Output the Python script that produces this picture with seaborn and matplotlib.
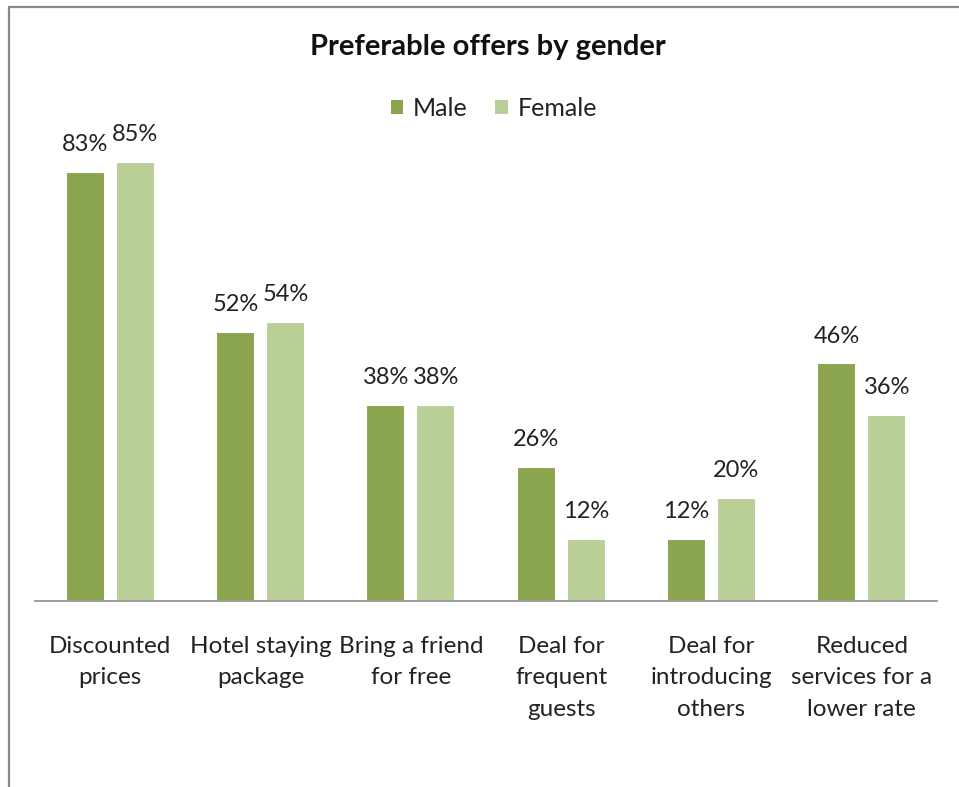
import matplotlib
matplotlib.use("Agg")
import matplotlib.pyplot as plt
import matplotlib.patheffects as pe
from matplotlib.lines import Line2D
from matplotlib.patches import Patch
import seaborn as sns
import pandas as pd

# Survey results: share of respondents preferring each offer, by gender
categories = [
    "Discounted\nprices",
    "Hotel staying\npackage",
    "Bring a friend\nfor free",
    "Deal for\nfrequent\nguests",
    "Deal for\nintroducing\nothers",
    "Reduced\nservices for a\nlower rate",
]
male = [83, 52, 38, 26, 12, 46]
female = [85, 54, 38, 12, 20, 36]
genders = ["Male", "Female"]
colors = {"Male": "#8AA54E", "Female": "#B9CF97"}

df = pd.DataFrame({
    "offer": categories * 2,
    "gender": ["Male"] * len(categories) + ["Female"] * len(categories),
    "share": male + female,
})

sns.set_theme(style="white")
plt.rcParams["font.family"] = ["Lato", "DejaVu Sans"]
text_color = "#222222"

W, H = 959, 787
fig = plt.figure(figsize=(W / 100, H / 100), dpi=100)
fig.patch.set_facecolor("white")

# plot area: baseline at y=601 px, 5.17 px per percentage point
left, right, base = 35, 937, 601
top = base - 5.17 * 90
ax = fig.add_axes([left / W, (H - base) / H, (right - left) / W, (base - top) / H])

sns.barplot(data=df, x="offer", y="share", hue="gender", hue_order=genders,
            palette=colors, saturation=1, width=0.665, gap=0.22,
            edgecolor="white", linewidth=1.5, legend=False, ax=ax)

for patch in ax.patches:
    patch.set_path_effects([
        pe.SimplePatchShadow(offset=(0.8, -0.8), shadow_rgbFace="#000000", alpha=0.10),
        pe.Normal(),
    ])

for cont in ax.containers:
    ax.bar_label(cont, labels=[f"{int(v)}%" for v in cont.datavalues],
                 padding=12, fontsize=17, color=text_color)

ax.set_ylim(0, 90)
ax.set_xlim(-0.5, len(categories) - 0.5)
ax.set_xlabel("")
ax.set_ylabel("")
ax.set_yticks([])
ax.tick_params(axis="x", length=0, pad=25, labelsize=17.5, colors=text_color)
for lbl in ax.get_xticklabels():
    lbl.set_linespacing(1.62)
    lbl.set_verticalalignment("top")
for side in ["left", "right", "top"]:
    ax.spines[side].set_visible(False)
ax.spines["bottom"].set_color("#8C8C8C")
ax.spines["bottom"].set_linewidth(1.2)
ax.set_facecolor("none")

fig.text(488 / W, 1 - 47 / H, "Preferable offers by gender", ha="center",
         va="center", fontsize=21, fontweight="bold", color="#111111")

handles = [Patch(facecolor=colors[g], edgecolor="none", label=g) for g in genders]
fig.legend(handles=handles, loc="center", bbox_to_anchor=(494 / W, 1 - 108 / H),
           ncol=2, frameon=False, fontsize=18, handlelength=0.5,
           handleheight=0.5, handletextpad=0.4, columnspacing=1.1,
           labelcolor=text_color)

# chart frame lines
fig.add_artist(Line2D([8.5 / W, 8.5 / W], [0, 1 - 6.5 / H], color="#888888", lw=1.6))
fig.add_artist(Line2D([8.5 / W, 1], [1 - 6.5 / H, 1 - 6.5 / H], color="#888888", lw=1.6))

fig.savefig("out.png", dpi=100, facecolor="white")
